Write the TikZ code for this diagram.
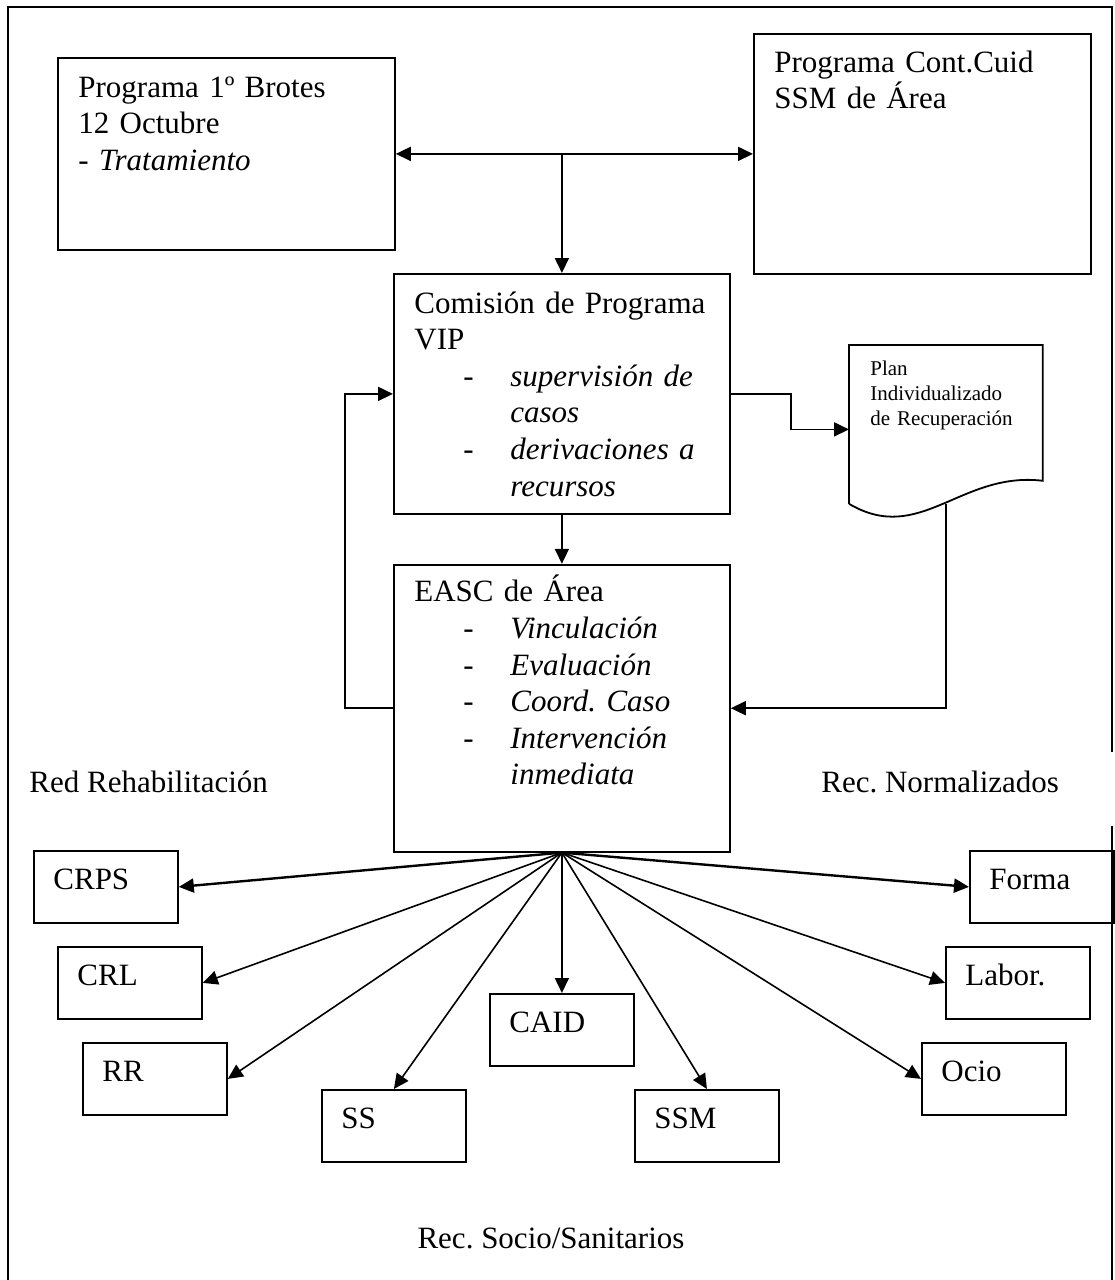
\documentclass[tikz,border=0pt]{standalone}
\usepackage{fontspec}
\setmainfont{Liberation Serif}
\usetikzlibrary{positioning,calc,arrows.meta}
\tikzset{>={Triangle[length=7.5pt,width=7pt]}}
\frenchspacing

\newcommand{\guion}[1]{\hspace*{24.5pt}\makebox[23.5pt][l]{-}\textit{#1}}
\newcommand{\sigue}[1]{\hspace*{48pt}\textit{#1}}

\begin{document}
\begin{tikzpicture}[
    x=0.5pt, y=-0.5pt,
    box/.style={draw, line width=0.9pt, anchor=north west, inner sep=0pt},
    recurso/.style={box, minimum width=72pt, minimum height=36pt},
    texto/.style={anchor=base west, inner sep=0pt, font=\fontsize{15.5}{18.3}\selectfont},
    bloque/.style={texto, text width=170pt, align=left},
    chico/.style={anchor=base west, inner sep=0pt, text width=90pt, align=left,
        font=\fontsize{10.5}{12.5}\selectfont},
    flecha/.style={->, line width=0.9pt},
    rayo/.style={->, line width=0.8pt}
]
\useasboundingbox (0,0) rectangle (1114,1280);

% marco
\draw[line width=1pt] (8,1280) -- (8,7) -- (1112,7) -- (1112,752);
\draw[line width=0.8pt] (1112,826) -- (1112,1280);

% programas
\node[box, minimum width=168.5pt, minimum height=96pt] (brotes) at (57,57) {};
\node[box, minimum width=168.5pt, minimum height=120pt] (contcuid) at (753,33) {};
\node[box, minimum width=168pt, minimum height=120pt] (comision) at (393,273) {};
\node[box, minimum width=168pt, minimum height=143.5pt, anchor=north,
    below=24.5pt of comision] (easc) {};
\node[anchor=north west, inner sep=0pt, minimum width=96.5pt,
    minimum height=79pt] (plan) at (849,345) {};

\node[bloque] (tbrotes) at ([shift={(21,40)}]brotes.north west)
    {Programa 1º Brotes\\ 12 Octubre\\ - \textit{Tratamiento}};
\node[bloque] (tcontcuid) at ([shift={(21,39)}]contcuid.north west)
    {Programa Cont.Cuid\\ SSM de Área};
\node[bloque] (tcomision) at ([shift={(21,40)}]comision.north west)
    {Comisión de Programa\\ VIP\\ \guion{supervisión de}\\ \sigue{casos}\\
     \guion{derivaciones a}\\ \sigue{recursos}};
\node[bloque] (teasc) at ([shift={(21,38)}]easc.north west)
    {EASC de Área\\ \guion{Vinculación}\\ \guion{Evaluación}\\
     \guion{Coord. Caso}\\ \guion{Intervención}\\ \sigue{inmediata}};

% documento
\draw[line width=0.9pt] (plan.south west) -- (plan.north west) -- (plan.north east)
    -- ($(plan.south east)+(0,-23)$)
    .. controls ($(plan.south east)+(-82,-33)$) and ($(plan.south west)+(71,42)$)
    .. (plan.south west);
\node[chico] (tplan) at ([shift={(21,30)}]plan.north west)
    {Plan\\ Individualizado\\ de Recuperación};

% recursos
\node[recurso] (crps) at (33,850) {};
\node[recurso] (crl) at (57,946) {};
\node[recurso] (rr) at (82,1042) {};
\node[recurso] (ss) at (321,1089) {};
\node[recurso] (caid) at (489,993) {};
\node[recurso] (ssm) at (634,1089) {};
\node[recurso] (forma) at (969,850) {};
\node[recurso] (labor) at (945,946) {};
\node[recurso] (ocio) at (921,1042) {};

\foreach \r/\t in {crps/CRPS, crl/CRL, rr/RR, ss/SS, caid/CAID, ssm/SSM,
    forma/Forma, labor/Labor., ocio/Ocio}
  \node[texto] (t\r) at ([shift={(20,39)}]\r.north west) {\t};

% rotulos
\node[texto] (red) at (29,792) {Red Rehabilitación};
\node[texto] (normal) at (821,792) {Rec. Normalizados};
\node[texto, anchor=base] (socio) at (551,1248) {Rec. Socio/Sanitarios};

% conexiones
\draw[flecha, <->] (brotes.east) -- (contcuid.west);
\draw[flecha] (comision.north |- brotes.east) -- (comision.north);
\draw[flecha] (comision.south) -- (easc.north);
\draw[flecha] (easc.west) -- ++(-48,0) |- (comision.west);
\draw[flecha] (comision.east) -- ++(60,0) |- ([yshift=-2.5pt]plan.west);
\draw[flecha] (plan.south) |- (easc.east);

\draw[rayo, line width=1.2pt] (easc.south) -- (crps.east);
\draw[rayo, line width=1.2pt] (easc.south) -- (forma.west);
\foreach \r in {crl.east, rr.east, ss.north, caid.north, ssm.north, labor.west, ocio.west}
  \draw[rayo] (easc.south) -- (\r);
\end{tikzpicture}
\end{document}
